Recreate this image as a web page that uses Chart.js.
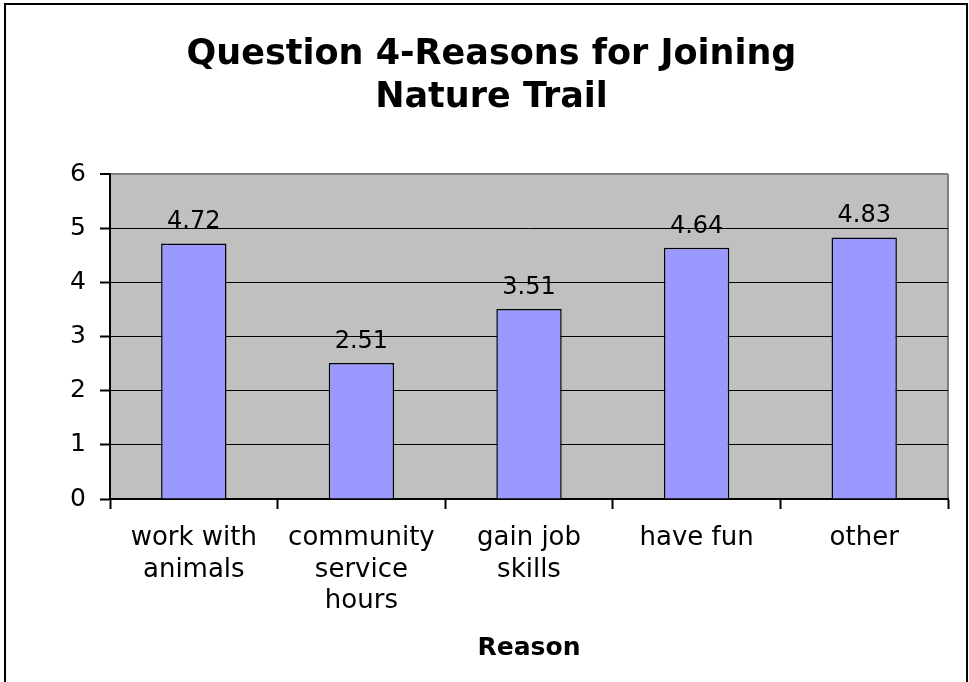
<!DOCTYPE html>
<html>
<head>
<meta charset="utf-8">
<script src="https://cdn.jsdelivr.net/npm/chart.js@4.4.0/dist/chart.umd.min.js"></script>
<style>
  body { margin: 0; background: #fff; }
</style>
</head>
<body>
<canvas id="reasonsChart" width="969" height="682"></canvas>
<script>
const reasons = [['work with', 'animals'], ['community', 'service', 'hours'], ['gain job', 'skills'], 'have fun', 'other'];
const averages = [4.72, 2.51, 3.51, 4.64, 4.83];
const yTicks = [0, 1, 2, 3, 4, 5, 6];

Chart.defaults.font.family = "'DejaVu Sans', Verdana, sans-serif";
Chart.defaults.color = '#000';

// gray plot area, its gray right edge and the black frame round the chart
const plotFrame = {
  id: 'plotFrame',
  beforeDraw(chart) {
    const { ctx, chartArea: a } = chart;
    ctx.save();
    ctx.fillStyle = '#fff';
    ctx.fillRect(0, 0, chart.width, chart.height);
    ctx.fillStyle = '#c0c0c0';
    ctx.fillRect(a.left, a.top, a.right - a.left, a.bottom - a.top);
    ctx.strokeStyle = '#808080';
    ctx.lineWidth = 2;
    ctx.beginPath();
    ctx.moveTo(a.right, a.top);
    ctx.lineTo(a.right, a.bottom);
    ctx.stroke();
    ctx.restore();
  },
  afterDraw(chart) {
    const ctx = chart.ctx;
    ctx.save();
    ctx.strokeStyle = '#000';
    ctx.lineWidth = 2;
    ctx.strokeRect(5, 4, 962, 690);
    ctx.restore();
  }
};

// value written over each bar
const barValues = {
  id: 'barValues',
  afterDatasetsDraw(chart) {
    const ctx = chart.ctx;
    ctx.save();
    ctx.font = "24px 'DejaVu Sans', Verdana, sans-serif";
    ctx.fillStyle = '#000';
    ctx.textAlign = 'center';
    ctx.textBaseline = 'alphabetic';
    chart.getDatasetMeta(0).data.forEach((bar, i) => {
      ctx.fillText(averages[i].toFixed(2), bar.x, bar.y - 15);
    });
    ctx.restore();
  }
};

new Chart(document.getElementById('reasonsChart'), {
  type: 'bar',
  data: {
    labels: reasons,
    datasets: [{
      data: averages,
      backgroundColor: '#9999ff',
      borderColor: '#000',
      borderWidth: 1.5,
      categoryPercentage: 1,
      barPercentage: 0.39
    }]
  },
  options: {
    responsive: false,
    animation: false,
    layout: { padding: { left: 35, right: 21, top: 0, bottom: 0 } },
    plugins: {
      legend: { display: false },
      tooltip: { enabled: false },
      title: {
        display: true,
        text: ['Question 4-Reasons for Joining', 'Nature Trail'],
        color: '#000',
        font: { size: 35, weight: 'bold', lineHeight: 1.23 },
        padding: { top: 33, bottom: 55 }
      }
    },
    scales: {
      x: {
        afterFit: s => { s.height = 183; },
        border: { color: '#000', width: 2 },
        grid: {
          offset: true,
          drawOnChartArea: false,
          tickLength: 10,
          tickColor: '#000',
          tickWidth: 2
        },
        ticks: {
          color: '#000',
          font: { size: 26, lineHeight: 1.2 },
          padding: 14,
          maxRotation: 0,
          autoSkip: false
        },
        title: {
          display: true,
          text: 'Reason',
          color: '#000',
          font: { size: 25, weight: 'bold', lineHeight: 1.2 },
          padding: { top: 0, bottom: 19 }
        }
      },
      y: {
        min: yTicks[0],
        max: yTicks[yTicks.length - 1],
        afterFit: s => { s.width = 75; },
        afterBuildTicks: s => { s.ticks = yTicks.map(v => ({ value: v })); },
        border: { color: '#000', width: 2 },
        grid: {
          color: c => (c.tick && c.tick.value === 6 ? '#808080' : '#000'),
          lineWidth: c => (c.tick && c.tick.value === 6 ? 2 : 1),
          tickLength: 10,
          tickColor: '#000',
          tickWidth: 2
        },
        ticks: {
          color: '#000',
          font: { size: 25 },
          padding: 14
        }
      }
    }
  },
  plugins: [plotFrame, barValues]
});
</script>
</body>
</html>
